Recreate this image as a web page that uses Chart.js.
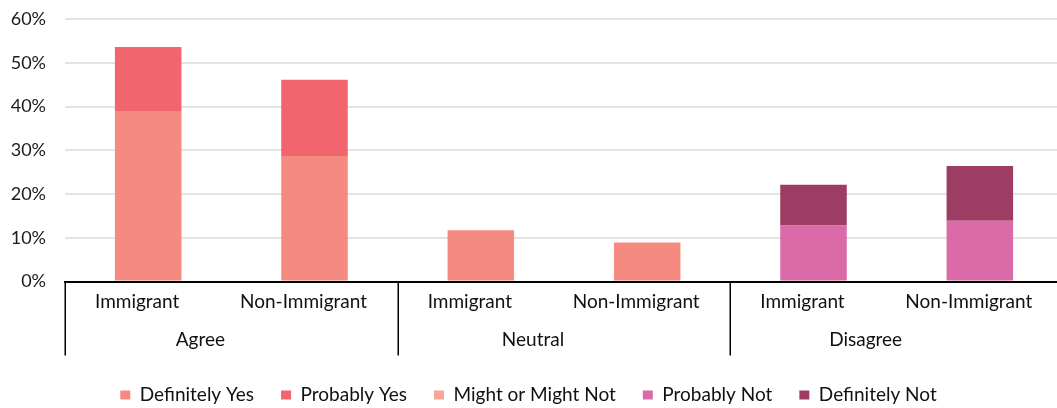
<!DOCTYPE html>
<html>
<head>
<meta charset="utf-8">
<script src="https://cdn.jsdelivr.net/npm/chart.js@4"></script>
<style>
  html, body { margin: 0; padding: 0; background: #fff; }
  #wrap { width: 1057px; height: 408px; position: relative; }
</style>
</head>
<body>
<div id="wrap"><canvas id="chart"></canvas></div>
<script>
/* ---- data ------------------------------------------------------------ */
const groups     = ['Agree', 'Neutral', 'Disagree'];
const categories = ['Immigrant', 'Non-Immigrant', 'Immigrant', 'Non-Immigrant', 'Immigrant', 'Non-Immigrant'];
const yTicks     = [0, 10, 20, 30, 40, 50, 60];

const definitelyYes = [39.0, 28.7, null, null, null, null];
const probablyYes   = [14.6, 17.4, null, null, null, null];
const mightOrNot    = [null, null, 11.7,  8.9, null, null];
const probablyNot   = [null, null, null, null, 12.8, 13.9];
const definitelyNot = [null, null, null, null,  9.3, 12.5];

/* ---- style ----------------------------------------------------------- */
const FONT = 'Lato';
const DIVIDER_LEN = 43;     // how far the group separators reach into the x2 band
const colors = {
  defYes:  '#f58a80',
  probYes: '#f2656f',
  might:   '#f58a80',
  mightLegend: '#f8a59c',
  probNot: '#db6ba8',
  defNot:  '#9e3d63'
};

const ds = (label, data, color) => ({
  label, data, backgroundColor: color, borderWidth: 0,
  categoryPercentage: 1, barPercentage: 0.4
});

/* the original plot runs a few px past the right edge of the picture */
const bleedRight = {
  id: 'bleedRight',
  afterLayout(chart) {
    ['x', 'x2'].forEach(id => {
      const s = chart.scales[id];
      s.right += 6; s.width += 6;
      s.configure();
    });
  }
};

/* vertical separators between the three groups, taken from the x2 scale */
const groupDividers = {
  id: 'groupDividers',
  afterDraw(chart) {
    const x = chart.scales.x, x2 = chart.scales.x2, ctx = chart.ctx;
    const step = x2.getPixelForValue(1) - x2.getPixelForValue(0);
    const start = x2.getPixelForValue(0) - step / 2;
    ctx.save();
    ctx.strokeStyle = '#000';
    ctx.lineWidth = 1.5;
    for (let g = 0; g <= groups.length; g++) {
      const px = Math.round(start + g * step) + 0.25;
      ctx.beginPath();
      ctx.moveTo(px, x.top);
      ctx.lineTo(px, x2.top + DIVIDER_LEN);
      ctx.stroke();
    }
    ctx.restore();
  }
};

new Chart(document.getElementById('chart'), {
  type: 'bar',
  data: {
    labels: categories,
    datasets: [
      ds('Definitely Yes',     definitelyYes, colors.defYes),
      ds('Probably Yes',       probablyYes,   colors.probYes),
      ds('Might or Might Not', mightOrNot,    colors.might),
      ds('Probably Not',       probablyNot,   colors.probNot),
      ds('Definitely Not',     definitelyNot, colors.defNot)
    ]
  },
  plugins: [bleedRight, groupDividers],
  options: {
    responsive: true,
    maintainAspectRatio: false,
    animation: false,
    layout: { padding: { left: 0, right: 0, top: 19, bottom: 0 } },
    plugins: {
      tooltip: { enabled: false },
      legend: {
        position: 'bottom',
        maxHeight: 49.5,
        labels: {
          font: { family: FONT, size: 19 },
          color: '#111',
          boxWidth: 10,
          boxHeight: 9,
          padding: 27,
          generateLabels: chart => Chart.defaults.plugins.legend.labels.generateLabels(chart)
            .map(item => ({
              ...item,
              fillStyle: item.datasetIndex === 2 ? colors.mightLegend : item.fillStyle,
              lineWidth: 0,
              strokeStyle: 'transparent'
            }))
        }
      }
    },
    scales: {
      y: {
        stacked: true,
        min: 0, max: 60,
        afterBuildTicks: s => { s.ticks = yTicks.map(v => ({ value: v })); },
        afterFit: s => { s.width = 65; },
        border: { display: false },
        grid: {
          drawTicks: true,
          tickLength: 19,
          tickColor: 'rgba(0,0,0,0)',
          lineWidth: 2,
          color: c => c.tick && c.tick.value === 0 ? 'rgba(0,0,0,0)' : '#e3e3e3'
        },
        ticks: {
          padding: 0,
          color: '#1a1a1a',
          font: { family: FONT, size: 18 },
          callback: v => v + '%'
        }
      },
      x: {
        stacked: true,
        afterFit: s => { s.height = 31; },
        border: { display: true, color: '#000', width: 2 },
        grid: { display: false, drawTicks: false },
        ticks: {
          padding: 9,
          labelOffset: -11,
          maxRotation: 0,
          autoSkip: false,
          color: '#111',
          font: { family: FONT, size: 19 }
        }
      },
      x2: {
        type: 'category',
        labels: groups,
        position: 'bottom',
        offset: true,
        afterFit: s => { s.height = 46; },
        border: { display: false },
        grid: { display: false, drawTicks: false },
        ticks: {
          padding: 16,
          labelOffset: -31,
          maxRotation: 0,
          autoSkip: false,
          color: '#111',
          font: { family: FONT, size: 19 }
        }
      }
    }
  }
});
</script>
</body>
</html>
